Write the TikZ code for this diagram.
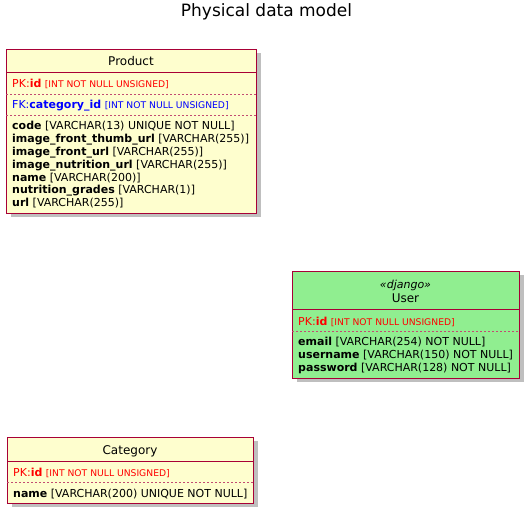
\documentclass[tikz,border=0pt]{standalone}
\usepackage{fontspec}
\setmainfont{DejaVu Sans}
\usepackage{xcolor}
\usetikzlibrary{positioning,shadows}

\definecolor{entityfill}{HTML}{FEFECE}
\definecolor{entityborder}{HTML}{A80036}
\definecolor{userfill}{HTML}{90EE90}
\definecolor{pkred}{HTML}{FF0000}
\definecolor{fkblue}{HTML}{0000FF}

\newcommand{\sqltype}[1]{{\fontsize{9.2}{10}\selectfont[#1]}}

\begin{document}
\begin{tikzpicture}[
    x=1pt, y=-1pt,
    entity/.style={rectangle, draw=entityborder, line width=1pt, fill=entityfill, anchor=north west, inner sep=0pt,
        drop shadow={shadow xshift=4pt, shadow yshift=-4pt, fill=black, opacity=0.25}},
    cname/.style={anchor=base, inner sep=0pt, font=\fontsize{12}{14}\selectfont},
    field/.style={anchor=base west, inner sep=0pt, font=\fontsize{11}{12.8}\selectfont},
    pkfield/.style={field, text=pkred},
    fkfield/.style={field, text=fkblue},
    sep/.style={draw=entityborder, line width=1pt},
    dotsep/.style={draw=entityborder!70, line width=0.5pt, dash pattern=on 2pt off 2pt}
]
    \useasboundingbox (0,0) rectangle (531,513);

    % Title
    \node[anchor=base, inner sep=0pt, font=\fontsize{17}{20}\selectfont] (title) at (266.5,17) {Physical data model};

    % Product
    \node[entity, minimum width=250pt, minimum height=164pt] (product) at (6,49) {};
    \node[cname] (productname) at (131,66) {Product};
    \draw[sep] (6,73) -- (256,73);
    \node[pkfield] (productpk) at (12,88) {PK:\textbf{id} \sqltype{INT NOT NULL UNSIGNED}};
    \draw[dotsep] (6,94) -- (256,94);
    \node[fkfield] (productfk) at (12,109) {FK:\textbf{category\_id} \sqltype{INT NOT NULL UNSIGNED}};
    \draw[dotsep] (6,115) -- (256,115);
    \foreach \fname/\ftype [count=\i] in {
        code/{VARCHAR(13) UNIQUE NOT NULL},
        image\_front\_thumb\_url/{VARCHAR(255)},
        image\_front\_url/{VARCHAR(255)},
        image\_nutrition\_url/{VARCHAR(255)},
        name/{VARCHAR(200)},
        nutrition\_grades/{VARCHAR(1)},
        url/{VARCHAR(255)}}
        \node[field] (productf\i) at (12,{130+12.8*(\i-1)}) {\textbf{\fname} [\ftype]};

    % User
    \node[entity, fill=userfill, minimum width=227pt, minimum height=107pt] (user) at (292,271) {};
    \node[cname, font=\fontsize{11}{13}\selectfont\itshape] (userstereo) at (405.5,289) {«django»};
    \node[cname] (username) at (405.5,303) {User};
    \draw[sep] (292,310) -- (519,310);
    \node[pkfield] (userpk) at (298,326) {PK:\textbf{id} \sqltype{INT NOT NULL UNSIGNED}};
    \draw[dotsep] (292,331) -- (519,331);
    \foreach \fname/\ftype [count=\i] in {
        email/{VARCHAR(254) NOT NULL},
        username/{VARCHAR(150) NOT NULL},
        password/{VARCHAR(128) NOT NULL}}
        \node[field] (userf\i) at (298,{346+12.8*(\i-1)}) {\textbf{\fname} [\ftype]};

    % Category
    \node[entity, minimum width=246pt, minimum height=66pt] (category) at (7,437) {};
    \node[cname] (categoryname) at (130,455) {Category};
    \draw[sep] (7,462) -- (253,462);
    \node[pkfield] (categorypk) at (13,477) {PK:\textbf{id} \sqltype{INT NOT NULL UNSIGNED}};
    \draw[dotsep] (7,482) -- (253,482);
    \node[field] (categoryf1) at (13,497) {\textbf{name} [VARCHAR(200) UNIQUE NOT NULL]};

\end{tikzpicture}
\end{document}
